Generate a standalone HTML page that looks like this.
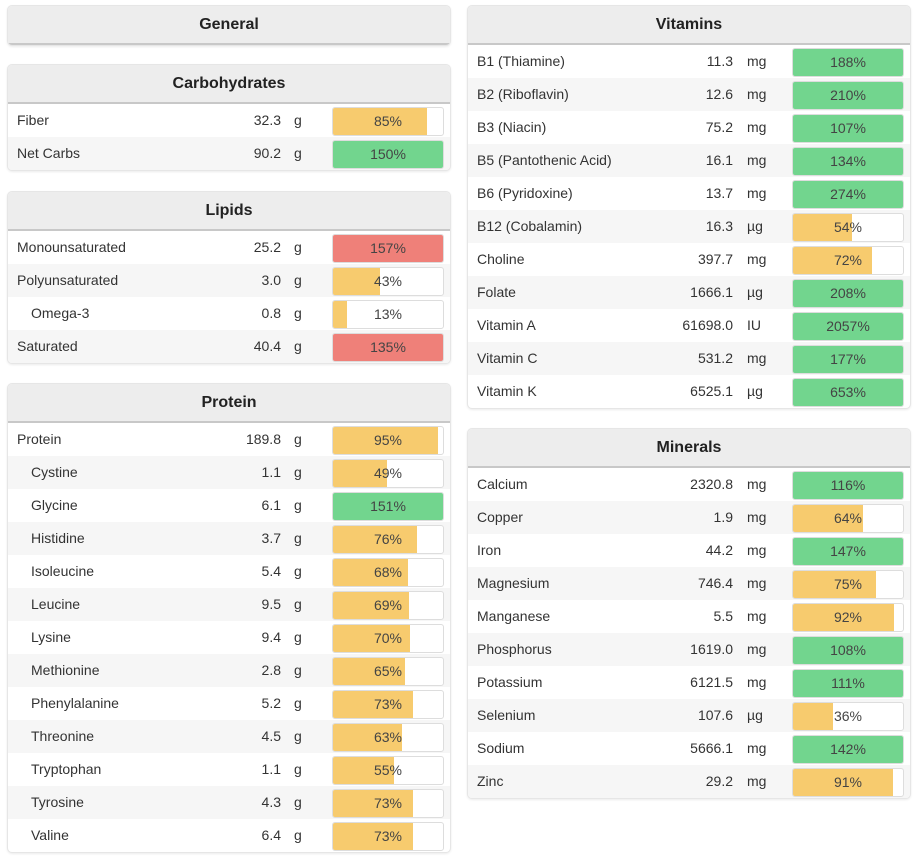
<!DOCTYPE html>
<html><head><meta charset="utf-8"><style>
body{margin:0;width:915px;height:860px;background:#fff;font-family:"Liberation Sans",sans-serif;color:#333;position:relative;overflow:hidden}
.panel{position:absolute;border:1px solid #e6e6e6;border-radius:5px;background:#fff;box-shadow:0 1px 2px rgba(0,0,0,.08);overflow:hidden}
.hdr{height:37px;background:#ededed;border-bottom:2px solid #c8c8c8;text-align:center;font-weight:bold;font-size:16px;line-height:38px;color:#222}
.row{position:relative;height:33px;font-size:14px;line-height:33px}
.row:nth-child(even){background:#f6f6f6}
.nm{position:absolute;left:9px}
.val{position:absolute;text-align:right}
.unit{position:absolute}
.bar{position:absolute;top:3px;height:27px;width:110px;border:1px solid #ddd;border-radius:3px;background:#fff;overflow:hidden}
.fill{position:absolute;left:0;top:0;bottom:0}
.pct{position:absolute;left:0;right:0;text-align:center;line-height:27px;color:#444}
</style></head><body>
<script>
const sections=[
 {title:'General',x:7,y:5,w:444,rows:[]},
 {title:'Carbohydrates',x:7,y:64,w:444,vEnd:273,u:286,rows:[['Fiber','32.3','g',85,0],['Net Carbs','90.2','g',150,0]]},
 {title:'Lipids',x:7,y:191,w:444,vEnd:273,u:286,red:true,rows:[['Monounsaturated','25.2','g',157,0],['Polyunsaturated','3.0','g',43,0],['Omega-3','0.8','g',13,1],['Saturated','40.4','g',135,0]]},
 {title:'Protein',x:7,y:383,w:444,vEnd:273,u:286,rows:[['Protein','189.8','g',95,0],['Cystine','1.1','g',49,1],['Glycine','6.1','g',151,1],['Histidine','3.7','g',76,1],['Isoleucine','5.4','g',68,1],['Leucine','9.5','g',69,1],['Lysine','9.4','g',70,1],['Methionine','2.8','g',65,1],['Phenylalanine','5.2','g',73,1],['Threonine','4.5','g',63,1],['Tryptophan','1.1','g',55,1],['Tyrosine','4.3','g',73,1],['Valine','6.4','g',73,1]]},
 {title:'Vitamins',x:467,y:5,w:444,vEnd:265,u:279,rows:[['B1 (Thiamine)','11.3','mg',188,0],['B2 (Riboflavin)','12.6','mg',210,0],['B3 (Niacin)','75.2','mg',107,0],['B5 (Pantothenic Acid)','16.1','mg',134,0],['B6 (Pyridoxine)','13.7','mg',274,0],['B12 (Cobalamin)','16.3','µg',54,0],['Choline','397.7','mg',72,0],['Folate','1666.1','µg',208,0],['Vitamin A','61698.0','IU',2057,0],['Vitamin C','531.2','mg',177,0],['Vitamin K','6525.1','µg',653,0]]},
 {title:'Minerals',x:467,y:428,w:444,vEnd:265,u:279,rows:[['Calcium','2320.8','mg',116,0],['Copper','1.9','mg',64,0],['Iron','44.2','mg',147,0],['Magnesium','746.4','mg',75,0],['Manganese','5.5','mg',92,0],['Phosphorus','1619.0','mg',108,0],['Potassium','6121.5','mg',111,0],['Selenium','107.6','µg',36,0],['Sodium','5666.1','mg',142,0],['Zinc','29.2','mg',91,0]]}
];
for(const s of sections){
 const p=document.createElement('div');p.className='panel';
 
 
 p.style.left=s.x+'px';p.style.top=s.y+'px';p.style.width=(s.w-2)+'px';
 const h=document.createElement('div');h.className='hdr';h.textContent=s.title;
 
 
 p.appendChild(h);
 const body=document.createElement('div');p.appendChild(body);
 for(const r of s.rows){
  const row=document.createElement('div');row.className='row';
  
  
  const over=r[3]>100;
  const col=over?(s.red?'#ef8079':'#72d58e'):'#f7cb6e';
  const fw=Math.min(r[3],100);
  row.innerHTML='<span class="nm" style="left:'+(r[4]?23:9)+'px">'+r[0]+'</span>'+
   '<span class="val" style="right:'+(s.w-2-s.vEnd)+'px">'+r[1]+'</span>'+
   '<span class="unit" style="left:'+s.u+'px">'+r[2]+'</span>'+
   '<div class="bar" style="left:324px"><div class="fill" style="width:'+fw+'%;background:'+col+'"></div><div class="pct">'+r[3]+'%</div></div>';
  body.appendChild(row);
 }
 document.body.appendChild(p);
}
</script>
</body></html>
